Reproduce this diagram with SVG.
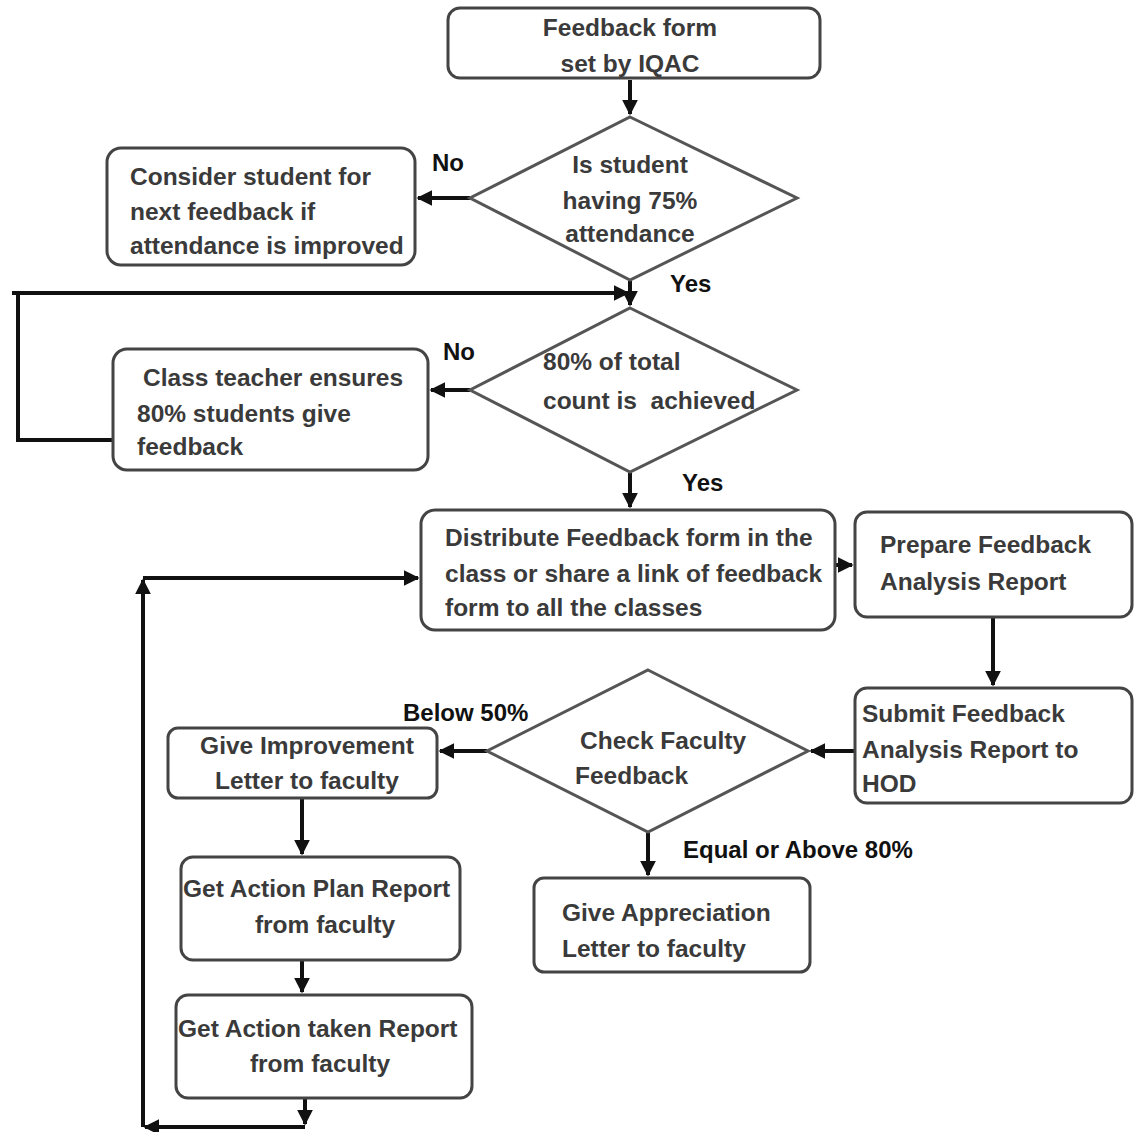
<svg xmlns="http://www.w3.org/2000/svg" width="1138" height="1132" viewBox="0 0 1138 1132">
<defs>
<marker id="ah" viewBox="0 0 10 10" refX="9" refY="5" markerWidth="4" markerHeight="4" orient="auto-start-reverse" markerUnits="strokeWidth">
<path d="M0,0 L10,5 L0,10 z" fill="#111"/>
</marker>
<style>
.box{fill:#fff;stroke:#444;stroke-width:3}
.dia{fill:#fff;stroke:#555;stroke-width:3}
.t{font-family:"Liberation Sans",Arial,sans-serif;font-weight:bold;font-size:24.5px;fill:#3a3a3a;white-space:pre}
.c{text-anchor:middle}
.lbl{font-family:"Liberation Sans",Arial,sans-serif;font-weight:bold;font-size:24px;fill:#111}
.ln{fill:none;stroke:#111;stroke-width:4}
.ar{fill:none;stroke:#111;stroke-width:4;marker-end:url(#ah)}
</style>
</defs>
<rect width="1138" height="1132" fill="#fff"/>

<g id="connectors">
<path class="ar" d="M630,80 V114"/>
<path class="ar" d="M470,198 H418"/>
<path class="ar" d="M630,281 V305"/>
<path class="ar" d="M12,293 H628"/>
<path class="ln" d="M113,440 H18 V293"/>
<path class="ar" d="M470,390 H431"/>
<path class="ar" d="M630,473 V507"/>
<path class="ar" d="M835,565 H852"/>
<path class="ar" d="M993,618 V685"/>
<path class="ar" d="M855,751 H811"/>
<path class="ar" d="M487,751 H440"/>
<path class="ar" d="M648,833 V875"/>
<path class="ar" d="M302,799 V854"/>
<path class="ar" d="M302,961 V992"/>
<path class="ar" d="M305,1099 V1124"/>
<path class="ar" d="M305,1127 H145"/>
<path class="ar" d="M143,1127 V580"/>
<path class="ar" d="M143,578 H418"/>
</g>

<g id="n1"><rect class="box" x="448" y="8" width="372" height="70" rx="12"/>
<text class="t c" x="630" y="36">Feedback form</text><text class="t c" x="630" y="72">set by IQAC</text></g>

<g id="d1"><polygon class="dia" points="630,117 797,198 630,280 470,198"/>
<text class="t c" x="630" y="173">Is student</text><text class="t c" x="630" y="209">having 75%</text><text class="t c" x="630" y="242">attendance</text></g>

<g id="n2"><rect class="box" x="107" y="148" width="308" height="117" rx="14"/>
<text class="t" x="130" y="185">Consider student for</text><text class="t" x="130" y="220">next feedback if</text><text class="t" x="130" y="254">attendance is improved</text></g>

<g id="d2"><polygon class="dia" points="630,308 797,390 630,472 470,390"/>
<text class="t" x="543" y="370">80% of total</text><text class="t" x="543" y="409">count is  achieved</text></g>

<g id="n3"><rect class="box" x="113" y="349" width="315" height="121" rx="14"/>
<text class="t" x="143" y="386">Class teacher ensures</text><text class="t" x="137" y="422">80% students give</text><text class="t" x="137" y="455">feedback</text></g>

<g id="n4"><rect class="box" x="421" y="510" width="414" height="120" rx="14"/>
<text class="t" x="445" y="546">Distribute Feedback form in the</text><text class="t" x="445" y="582">class or share a link of feedback</text><text class="t" x="445" y="616">form to all the classes</text></g>

<g id="n5"><rect class="box" x="855" y="512" width="277" height="105" rx="12"/>
<text class="t" x="880" y="553">Prepare Feedback</text><text class="t" x="880" y="590">Analysis Report</text></g>

<g id="n6"><rect class="box" x="855" y="688" width="277" height="115" rx="12"/>
<text class="t" x="862" y="722">Submit Feedback</text><text class="t" x="862" y="758">Analysis Report to</text><text class="t" x="862" y="792">HOD</text></g>

<g id="d3"><polygon class="dia" points="648,670 808,751 648,832 487,751"/>
<text class="t" x="580" y="749">Check Faculty</text><text class="t" x="575" y="784">Feedback</text></g>

<g id="n7"><rect class="box" x="168" y="728" width="269" height="70" rx="10"/>
<text class="t c" x="307" y="754">Give Improvement</text><text class="t c" x="307" y="789">Letter to faculty</text></g>

<g id="n8"><rect class="box" x="534" y="878" width="276" height="94" rx="10"/>
<text class="t" x="562" y="921">Give Appreciation</text><text class="t" x="562" y="957">Letter to faculty</text></g>

<g id="n9"><rect class="box" x="181" y="857" width="279" height="103" rx="12"/>
<text class="t" x="183" y="897">Get Action Plan Report</text><text class="t c" x="325" y="933">from faculty</text></g>

<g id="n10"><rect class="box" x="176" y="995" width="296" height="103" rx="12"/>
<text class="t" x="178" y="1037">Get Action taken Report</text><text class="t c" x="320" y="1072">from faculty</text></g>

<g id="labels">
<text class="lbl" x="432" y="171">No</text>
<text class="lbl" x="670" y="292">Yes</text>
<text class="lbl" x="443" y="360">No</text>
<text class="lbl" x="682" y="491">Yes</text>
<text class="lbl" x="403" y="721">Below 50%</text>
<text class="lbl" x="683" y="858">Equal or Above 80%</text>
</g>
</svg>
